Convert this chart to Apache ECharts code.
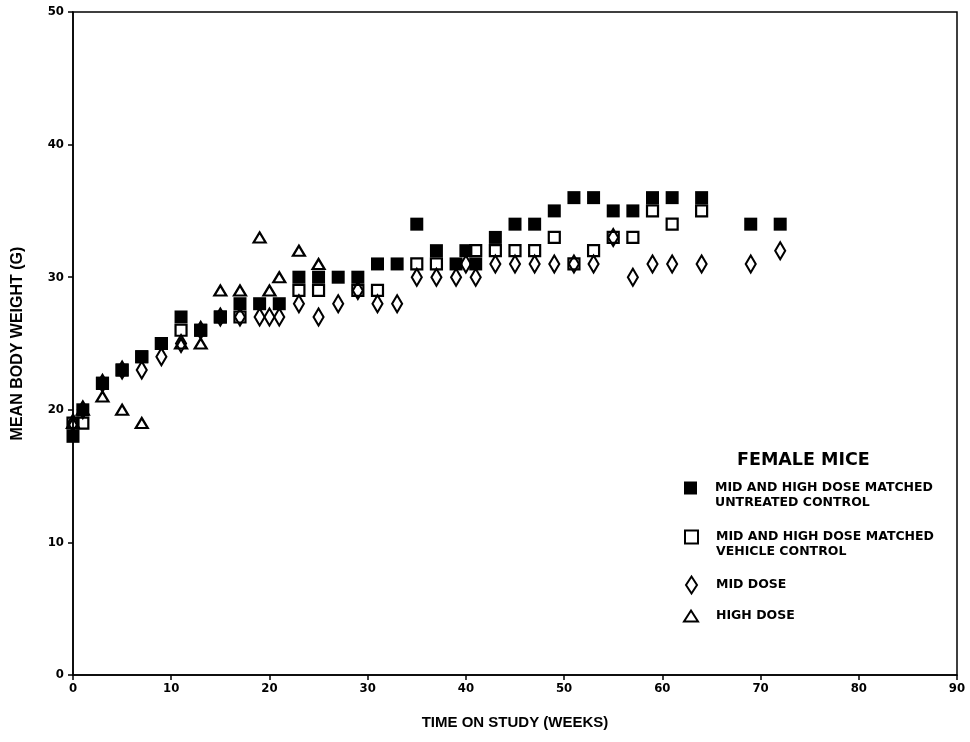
<!DOCTYPE html>
<html>
<head>
<meta charset="utf-8">
<script src="https://cdn.jsdelivr.net/npm/echarts@6/dist/echarts.min.js"></script>
<style>html,body{margin:0;padding:0;background:#fff;}#c{width:970px;height:742px;}</style>
</head>
<body>
<div id="c"></div>
<script>
// Data
const seriesNames = [
  'MID AND HIGH DOSE MATCHED\nUNTREATED CONTROL',
  'MID AND HIGH DOSE MATCHED\nVEHICLE CONTROL',
  'MID DOSE',
  'HIGH DOSE'
];
const untreatedWeeks = [0,1,3,5,7,9,11,13,15,17,19,21,23,25,27,29,31,33,35,37,39,40,41,43,45,47,49,51,53,55,57,59,61,64,69,72];
const untreatedVals  = [18,20,22,23,24,25,27,26,27,28,28,28,30,30,30,30,31,31,34,32,31,32,31,33,34,34,35,36,36,35,35,36,36,36,34,34];
const vehicleWeeks = [0,1,3,5,7,9,11,13,15,17,23,25,29,31,35,37,41,43,45,47,49,51,53,55,57,59,61,64];
const vehicleVals  = [19,19,22,23,24,25,26,26,27,27,29,29,29,29,31,31,32,32,32,32,33,31,32,33,33,35,34,35];
const midWeeks = [0,1,3,5,7,9,11,13,15,17,19,20,21,23,25,27,29,31,33,35,37,39,40,41,43,45,47,49,51,53,55,57,59,61,64,69,72];
const midVals  = [19,20,22,23,23,24,25,26,27,27,27,27,27,28,27,28,29,28,28,30,30,30,31,30,31,31,31,31,31,31,33,30,31,31,31,31,32];
const highWeeks = [0,1,3,5,7,11,13,15,17,19,20,21,23,25];
const highVals  = [19,20,21,20,19,25,25,29,29,33,29,30,32,31];
const xTicks = {min:0, max:90, interval:10};
const yTicks = {min:0, max:50, interval:10};

const pairs = (xs, ys) => xs.map((x, i) => [x, ys[i]]);

const FONT = "'Liberation Sans', Arial, sans-serif";
const FONT_WIDE = "'DejaVu Sans', 'Liberation Sans', sans-serif";
const FONT_NARROW = "'Liberation Sans Narrow', 'DejaVu Sans Condensed', 'Liberation Sans', sans-serif";

const openStyle = {color: 'transparent', borderColor: '#000', borderWidth: 2.2, opacity: 1};

const legendText = (extra) => Object.assign({
  fontFamily: FONT_WIDE, fontWeight: 'bold', fontSize: 12.5, color: '#000',
  lineHeight: 15, padding: [0, 0, 0, 13]
}, extra || {});

const chart = echarts.init(document.getElementById('c'), null, {renderer: 'canvas'});
chart.setOption({
  animation: false,
  backgroundColor: '#fff',
  title: {
    text: 'FEMALE MICE', left: 737, top: 451, padding: 0,
    textStyle: {fontFamily: FONT_WIDE, fontWeight: 'bold', fontSize: 17.5, color: '#000'}
  },
  grid: {left: 73, right: 13, top: 12, bottom: 67, show: true, borderColor: '#000', borderWidth: 1.5, backgroundColor: 'transparent'},
  xAxis: {
    type: 'value', min: xTicks.min, max: xTicks.max, interval: xTicks.interval,
    name: 'TIME ON STUDY (WEEKS)', nameLocation: 'middle', nameGap: 40,
    nameTextStyle: {fontFamily: FONT, fontWeight: 'bold', fontSize: 15, color: '#000'},
    axisLine: {lineStyle: {color: '#000', width: 1.5}},
    axisTick: {length: 5, lineStyle: {color: '#000', width: 1.5}},
    axisLabel: {margin: 7, fontFamily: FONT_NARROW, fontWeight: 'bold', fontSize: 13, color: '#000'},
    splitLine: {show: false}
  },
  yAxis: {
    type: 'value', min: yTicks.min, max: yTicks.max, interval: yTicks.interval,
    name: 'MEAN BODY WEIGHT (G)', nameLocation: 'middle', nameGap: 47,
    nameTextStyle: {fontFamily: FONT, fontWeight: 'bold', fontSize: 16, color: '#000'},
    axisLine: {show: true, lineStyle: {color: '#000', width: 1.5}},
    axisTick: {show: true, length: 5, lineStyle: {color: '#000', width: 1.5}},
    axisLabel: {margin: 9, fontFamily: FONT_NARROW, fontWeight: 'bold', fontSize: 13, color: '#000'},
    splitLine: {show: false}
  },
  legend: [
    {data: [seriesNames[0]], left: 684, top: 465.5, padding: 0, itemWidth: 13, itemHeight: 13,
     formatter: '\n{name}', textStyle: legendText(), selectedMode: false},
    {data: [seriesNames[1]], left: 684, top: 514.5, padding: 0, itemWidth: 13, itemHeight: 13,
     formatter: '\n{name}', textStyle: legendText(), selectedMode: false},
    {data: [seriesNames[2]], left: 685, top: 575.5, padding: 0, itemWidth: 11, itemHeight: 17,
     textStyle: legendText({padding: [0, 0, 0, 14]}), selectedMode: false},
    {data: [seriesNames[3]], left: 683, top: 608.5, padding: 0, itemWidth: 14, itemHeight: 11,
     textStyle: legendText({padding: [0, 0, 0, 13]}), selectedMode: false}
  ],
  series: [
    {name: seriesNames[3], type: 'scatter', data: pairs(highWeeks, highVals),
     symbol: 'triangle', symbolSize: [12, 10], symbolKeepAspect: false, itemStyle: openStyle, z: 2},
    {name: seriesNames[2], type: 'scatter', data: pairs(midWeeks, midVals),
     symbol: 'diamond', symbolSize: [10, 17], symbolKeepAspect: false, itemStyle: openStyle, z: 3},
    {name: seriesNames[1], type: 'scatter', data: pairs(vehicleWeeks, vehicleVals),
     symbol: 'rect', symbolSize: 11, itemStyle: openStyle, z: 4},
    {name: seriesNames[0], type: 'scatter', data: pairs(untreatedWeeks, untreatedVals),
     symbol: 'rect', symbolSize: 13, itemStyle: {color: '#000', opacity: 1}, z: 5}
  ]
});
</script>
</body>
</html>
